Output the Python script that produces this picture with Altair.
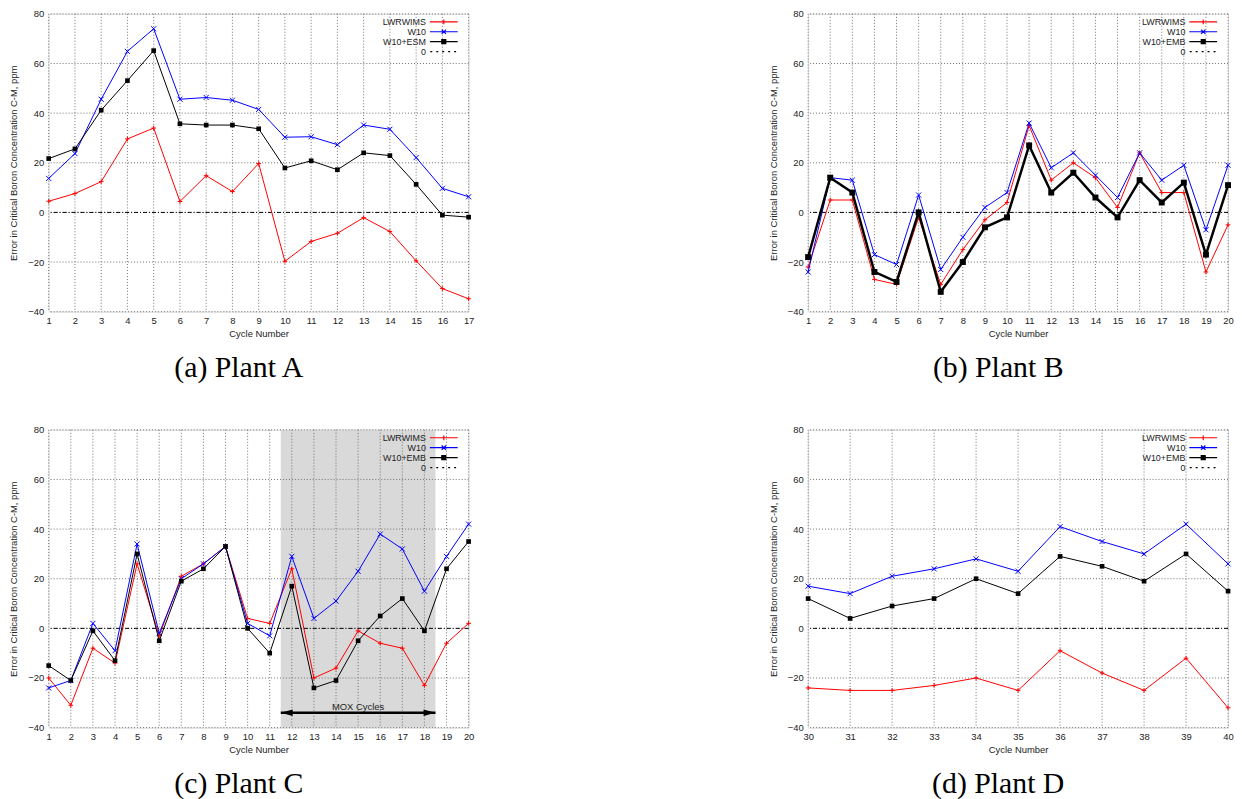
import altair as alt
import pandas as pd

# ---------------- data ----------------
cycles_a = list(range(1, 18))
a_lwrwims = [4.5, 7.6, 12.4, 29.6, 34.0, 4.4, 14.8, 8.4, 19.7, -19.7, -11.7, -8.4, -2.1, -7.7, -19.5, -30.7, -34.8]
a_w10 = [13.7, 23.7, 45.6, 64.9, 74.0, 45.6, 46.3, 45.2, 41.5, 30.3, 30.5, 27.3, 35.2, 33.5, 22.1, 9.7, 6.3]
a_w10esm = [21.7, 25.6, 41.2, 53.1, 65.2, 35.7, 35.2, 35.2, 33.7, 17.9, 20.8, 17.2, 24.0, 22.9, 11.3, -1.1, -1.9]

cycles_b = list(range(1, 21))
b_lwrwims = [-22, 5, 5, -27, -29, -2, -29, -15, -3, 4, 35, 13, 20, 14, 2, 24, 8, 8, -24, -5]
b_w10 = [-24, 14, 13, -17, -21, 7, -23, -10, 2, 8, 36, 18, 24, 15, 6, 24, 13, 19, -7, 19]
b_w10emb = [-18, 14, 8, -24, -28, 0, -32, -20, -6, -2, 27, 8, 16, 6, -2, 13, 4, 12, -17, 11]

cycles_c = list(range(1, 21))
c_lwrwims = [-20, -31, -8, -14, 26, -3, 21, 26, 33, 4, 2, 24, -20, -16, -1, -6, -8, -23, -6, 2]
c_w10 = [-24, -21, 2, -9, 34, -2, 20, 26, 33, 2, -3, 29, 4, 11, 23, 38, 32, 15, 29, 42]
c_w10emb = [-15, -21, -1, -13, 30, -5, 19, 24, 33, 0, -10, 17, -24, -21, -5, 5, 12, -1, 24, 35]

cycles_d = list(range(30, 41))
d_lwrwims = [-24, -25, -25, -23, -20, -25, -9, -18, -25, -12, -32]
d_w10 = [17, 14, 21, 24, 28, 23, 41, 35, 30, 42, 26]
d_w10emb = [12, 4, 9, 12, 20, 14, 29, 25, 19, 30, 15]

names_a = ["LWRWIMS", "W10", "W10+ESM"]
names_bcd = ["LWRWIMS", "W10", "W10+EMB"]
zero_label = "0"
series_colors = ["#ff0000", "#0000ff", "#000000"]

y_ticks = [-40, -20, 0, 20, 40, 60, 80]
y_domain = [-40, 80]

mox_start = [11.5]
mox_end = [18.5]
mox_arrow_y = [-34]
mox_label = ["MOX Cycles"]
mox_label_x = [15]

captions = ["(a) Plant A", "(b) Plant B", "(c) Plant C", "(d) Plant D"]
y_title = "Error in Critical Boron Concentration C-M, ppm"
x_title = "Cycle Number"

# ---------------- styling ----------------
FONT = "Liberation Sans"
SERIF = "Liberation Serif"
TXT = "#222222"
W, H = 423, 300

PLUS = "M-1,0H1M0,-1V1"
XMARK = "M-1,-1L1,1M-1,1L1,-1"
# legend symbols: unit = 4px (symbol size 64)
LEG_PLUS = "M-3.5,0H3.5M0,-0.6V0.6"
LEG_X = "M-3.5,0H3.5M-0.55,-0.55L0.55,0.55M-0.55,0.55L0.55,-0.55"
LEG_SQ = "M-3.5,0H3.5M-0.5,-0.5H0.5V0.5H-0.5Z"
LEG_DOT = "M-3.4,0H-2.9M-1.9,0H-1.4M-0.4,0H0.1M1.1,0H1.6M2.6,0H3.1"
ARROW_L = "M0,0L2,-0.55L2,0.55Z"
ARROW_R = "M0,0L-2,-0.55L-2,0.55Z"


def panel(cycles, vals, names, caption, bold=False, mox=False):
    xs = alt.Scale(domain=[cycles[0], cycles[-1]], nice=False, zero=False)
    ys = alt.Scale(domain=y_domain, nice=False, zero=False)
    xax = alt.Axis(values=cycles, format="d", title=x_title, grid=False, ticks=False,
                   domain=False, labelFont=FONT, labelFontSize=9.5, labelColor=TXT,
                   labelPadding=4, titleFont=FONT, titleFontSize=9.5, titleFontWeight="normal",
                   titleColor=TXT, titlePadding=4, labelFlush=False, labelOverlap=False)
    yax = alt.Axis(values=y_ticks, title=y_title, grid=False, ticks=False, domain=False,
                   labelFont=FONT, labelFontSize=9.5, labelColor=TXT, labelPadding=5,
                   titleFont=FONT, titleFontSize=9.5, titleFontWeight="normal",
                   titleColor=TXT, titlePadding=9, labelOverlap=False)

    def X(f):
        return alt.X(f, scale=xs, axis=xax)

    def Y(f):
        return alt.Y(f, scale=ys, axis=yax)

    layers = []
    if mox:
        mdf = pd.DataFrame({"x0": mox_start, "x1": mox_end})
        layers.append(alt.Chart(mdf).mark_rect(color="#d9d9d9").encode(
            x=X("x0:Q"), x2="x1:Q",
            y=alt.datum(y_domain[0], scale=ys, axis=yax), y2=alt.datum(y_domain[1])))

    gx = pd.DataFrame({"g": cycles})
    gy = pd.DataFrame({"g": y_ticks})
    layers.append(alt.Chart(gx).mark_rule(color="#707070", strokeDash=[1, 2], strokeWidth=1).encode(
        x=X("g:Q")))
    layers.append(alt.Chart(gy).mark_rule(color="#707070", strokeDash=[1, 2], strokeWidth=1).encode(
        y=Y("g:Q")))
    layers.append(alt.Chart(pd.DataFrame({"z": [0]})).mark_rule(
        color="black", strokeDash=[4, 2, 1, 2], strokeWidth=1).encode(y=Y("z:Q")))

    if mox:
        adf = pd.DataFrame({"x0": mox_start, "x1": mox_end, "y": mox_arrow_y})
        layers.append(alt.Chart(adf).mark_rule(color="black", strokeWidth=2.5).encode(
            x=X("x0:Q"), x2="x1:Q", y=Y("y:Q")))
        layers.append(alt.Chart(adf).mark_point(shape=ARROW_L, filled=True, color="black",
                                                size=144, opacity=1).encode(
            x=X("x0:Q"), y=Y("y:Q")))
        layers.append(alt.Chart(adf).mark_point(shape=ARROW_R, filled=True, color="black",
                                                size=144, opacity=1).encode(
            x=X("x1:Q"), y=Y("y:Q")))
        tdf = pd.DataFrame({"x": mox_label_x, "y": mox_arrow_y, "t": mox_label})
        layers.append(alt.Chart(tdf).mark_text(font=FONT, fontSize=9.5, color=TXT, dy=-6,
                                               baseline="middle").encode(
            x=X("x:Q"), y=Y("y:Q"), text="t:N"))

    shapes = [PLUS, XMARK, "square"]
    for i, (name, v) in enumerate(zip(names, vals)):
        df = pd.DataFrame({"cycle": cycles, "value": v})
        lw = 2.5 if (bold and i == 2) else 1
        layers.append(alt.Chart(df).mark_line(color=series_colors[i], strokeWidth=lw).encode(
            x=X("cycle:Q"), y=Y("value:Q")))
        if i == 2:
            pt = alt.Chart(df).mark_point(shape="square", filled=True, color=series_colors[i],
                                          size=36 if bold else 22, opacity=1)
        else:
            pt = alt.Chart(df).mark_point(shape=shapes[i], filled=False, color=series_colors[i],
                                          size=22 if i == 0 else 26, strokeWidth=1, opacity=1)
        layers.append(pt.encode(x=X("cycle:Q"), y=Y("value:Q")))

    leg_names = list(names) + [zero_label]
    ldf = pd.DataFrame({"series": leg_names})
    leg = alt.Legend(orient="none", legendX=393, legendY=3, title=None, labelAlign="right",
                     labelOffset={"expr": "-23"}, symbolSize=64, rowPadding=0,
                     padding=0, labelFont=FONT, labelFontSize=9, labelColor=TXT,
                     symbolStrokeWidth=1.2, symbolOpacity=1)
    layers.append(alt.Chart(ldf).mark_point(opacity=1).encode(
        stroke=alt.Stroke("series:N", scale=alt.Scale(domain=leg_names,
                                                      range=series_colors + ["#000000"]),
                          legend=leg, title=None),
        fill=alt.Fill("series:N", scale=alt.Scale(domain=leg_names,
                                                  range=["transparent", "transparent", "#000000", "transparent"]),
                      legend=leg, title=None),
        shape=alt.Shape("series:N", scale=alt.Scale(domain=leg_names,
                                                    range=[LEG_PLUS, LEG_X, LEG_SQ, LEG_DOT]),
                        legend=leg, title=None),
    ).transform_filter("false"))

    return alt.layer(*layers).properties(
        width=W, height=H,
        title=alt.TitleParams(caption, orient="bottom", font=SERIF, fontSize=30,
                              fontWeight="normal", color="black", anchor="middle",
                              dx=-20, offset=15),
    )


def indep(c):
    return c.resolve_scale(stroke="independent", fill="independent", shape="independent").resolve_legend(
        stroke="independent", fill="independent", shape="independent")


pa = panel(cycles_a, [a_lwrwims, a_w10, a_w10esm], names_a, captions[0])
pb = panel(cycles_b, [b_lwrwims, b_w10, b_w10emb], names_bcd, captions[1], bold=True)
pc = panel(cycles_c, [c_lwrwims, c_w10, c_w10emb], names_bcd, captions[2], mox=True)
pd_ = panel(cycles_d, [d_lwrwims, d_w10, d_w10emb], names_bcd, captions[3])

chart = indep(alt.vconcat(
    indep(alt.hconcat(pa, pb, spacing=295)),
    indep(alt.hconcat(pc, pd_, spacing=295)),
    spacing=40,
)).properties(
    padding={"left": 0, "top": -3, "right": 0, "bottom": 0},
).configure_view(
    stroke="black", strokeWidth=1.5,
).configure(background="white")

chart.save("out.html", embed_options={"renderer": "svg", "actions": False})
